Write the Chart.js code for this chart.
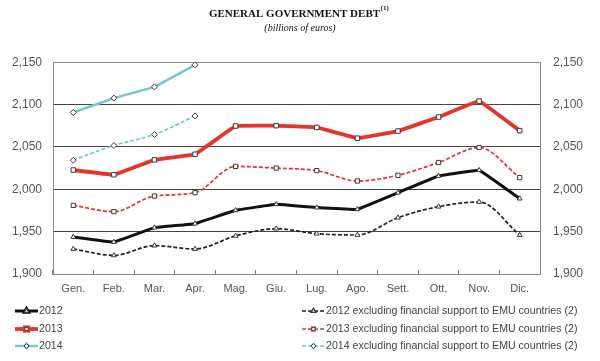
<!DOCTYPE html>
<html>
<head>
<meta charset="utf-8">
<script src="https://cdn.jsdelivr.net/npm/chart.js@4/dist/chart.umd.min.js"></script>
<style>
  html, body { margin: 0; padding: 0; background: #fff; }
  #wrap { width: 600px; height: 361px; }
</style>
</head>
<body>
<div id="wrap"><canvas id="debtChart"></canvas></div>
<script>
// months (Italian abbreviations, as in the source)
const months = ["Gen.", "Feb.", "Mar.", "Apr.", "Mag.", "Giu.", "Lug.", "Ago.", "Sett.", "Ott.", "Nov.", "Dic."];

// billions of euros
const debt2012 = [1943.7, 1937.8, 1954.7, 1959.4, 1975.2, 1982.3, 1978.4, 1976.4, 1996.0, 2015.7, 2022.5, 1989.0];
const debt2013 = [2022.7, 2017.2, 2034.7, 2041.3, 2074.7, 2075.1, 2073.0, 2060.3, 2068.7, 2085.3, 2104.1, 2069.2];
const debt2014 = [2090.7, 2107.6, 2120.9, 2146.9, null, null, null, null, null, null, null, null];

// excluding financial support to EMU countries
const excl2012 = [1929.5, 1922.0, 1933.5, 1929.5, 1945.0, 1953.5, 1947.6, 1946.0, 1966.5, 1979.5, 1985.0, 1946.0];
const excl2013 = [1981.0, 1973.6, 1992.0, 1996.0, 2027.0, 2025.0, 2022.0, 2009.8, 2016.5, 2031.6, 2049.3, 2013.8];
const excl2014 = [2034.3, 2051.7, 2064.7, 2086.6, null, null, null, null, null, null, null, null];

const yTicks = [1900, 1950, 2000, 2050, 2100, 2150];

const TITLE = "GENERAL GOVERNMENT DEBT";
const TITLE_NOTE = "(1)";

const BLACK = "#111111";
const RED = "#e5352b";
const CYAN = "#74c7ca";
const MARK_BORDER = "#3a3a3a";
const SERIF = "'Liberation Serif', 'Times New Roman', serif";
const SANS = "'Liberation Sans', Arial, sans-serif";

function solid(label, data, color, width, style, radius) {
  return {
    label: label, data: data,
    borderColor: color, borderWidth: width,
    pointStyle: style, pointRadius: radius,
    pointBackgroundColor: "#fff", pointBorderColor: MARK_BORDER, pointBorderWidth: 1,
    tension: 0.05, spanGaps: false
  };
}
function dashed(label, data, color, style, radius) {
  return {
    label: label, data: data,
    borderColor: color, borderWidth: 1.7, borderDash: [4, 2],
    pointStyle: style, pointRadius: radius,
    pointBackgroundColor: "#fff", pointBorderColor: MARK_BORDER, pointBorderWidth: 1,
    tension: 0.3, cubicInterpolationMode: "monotone", spanGaps: false
  };
}

const datasets = [
  solid("2012", debt2012, BLACK, 3, "triangle", 2.8),
  solid("2013", debt2013, RED, 3.8, "rect", 3.2),
  solid("2014", debt2014, CYAN, 2.4, "rectRot", 3),
  dashed("2012 excluding financial support to EMU countries (2)", excl2012, "#222", "triangle", 2.8),
  dashed("2013 excluding financial support to EMU countries (2)", excl2013, RED, "rect", 3),
  dashed("2014 excluding financial support to EMU countries (2)", excl2014, CYAN, "rectRot", 3)
];

// superscript note after the title text
const titleNote = {
  id: "titleNote",
  afterDraw(chart) {
    const tb = chart.titleBlock;
    if (!tb) return;
    const ctx = chart.ctx;
    ctx.save();
    ctx.font = "bold 11px " + SERIF;
    const full = ctx.measureText(TITLE + "    ").width;
    const main = ctx.measureText(TITLE).width;
    const x = (tb.left + tb.right) / 2 - full / 2 + main + 0.5;
    ctx.font = "bold 7px " + SERIF;
    ctx.fillStyle = "#111";
    ctx.textAlign = "left";
    ctx.textBaseline = "middle";
    ctx.fillText(TITLE_NOTE, x, tb.top + 8);
    ctx.restore();
  }
};

// legend in two columns below the plot
const twoColLegend = {
  id: "twoColLegend",
  afterDraw(chart) {
    const ctx = chart.ctx;
    const rows = [311, 329, 346];
    const cols = [{ x0: 15, x1: 38 }, { x0: 302, x1: 325 }];
    ctx.save();
    chart.data.datasets.forEach((ds, i) => {
      const col = cols[Math.floor(i / 3)];
      const y = rows[i % 3];
      ctx.strokeStyle = ds.borderColor;
      ctx.lineWidth = ds.borderWidth;
      ctx.setLineDash(ds.borderDash || []);
      ctx.beginPath();
      ctx.moveTo(col.x0, y);
      ctx.lineTo(col.x1, y);
      ctx.stroke();
      ctx.setLineDash([]);
      Chart.helpers.drawPoint(ctx, {
        pointStyle: ds.pointStyle, radius: 2.4, rotation: 0,
        borderWidth: 1
      }, (col.x0 + col.x1) / 2, y);
      ctx.fillStyle = "#fff";
      ctx.strokeStyle = MARK_BORDER;
      ctx.lineWidth = 1;
      ctx.fill();
      ctx.stroke();
      ctx.fillStyle = "#444";
      ctx.font = "10.6px " + SANS;
      ctx.textBaseline = "middle";
      ctx.textAlign = "left";
      ctx.fillText(ds.label, col.x1 + 1, y + 0.5);
    });
    ctx.restore();
  }
};

const fmt = v => v.toLocaleString("en-US");

const config = {
  type: "line",
  data: { labels: months, datasets: datasets },
  plugins: [twoColLegend, titleNote],
  options: {
    responsive: false,
    animation: false,
    layout: { padding: { left: 0, right: 0, top: 0, bottom: 62 } },
    plugins: {
      legend: { display: false },
      tooltip: { enabled: false },
      title: {
        display: true,
        text: TITLE + "    ",
        color: "#111",
        font: { family: SERIF, size: 11, weight: "bold" },
        padding: { top: 8, bottom: 1 }
      },
      subtitle: {
        display: true,
        text: "(billions of euros)",
        color: "#111",
        font: { family: SERIF, size: 10, style: "italic" },
        padding: { top: 0, bottom: 28 }
      }
    },
    scales: {
      x: {
        offset: true,
        grid: {
          offset: true,
          drawOnChartArea: false,
          drawTicks: true,
          tickLength: -4,
          color: "#777"
        },
        border: { display: true, color: "#888", width: 1 },
        ticks: {
          color: "#555",
          padding: 12,
          font: { family: SANS, size: 11 }
        },
        afterFit(scale) { scale.height = 25; }
      },
      y: {
        position: "left",
        min: 1900, max: 2150,
        afterBuildTicks(scale) { scale.ticks = yTicks.map(v => ({ value: v })); },
        grid: {
          drawTicks: false,
          color: ctx => (ctx.tick.value === 1900 ? "rgba(0,0,0,0)" : ctx.tick.value === 2150 ? "#888" : "#444"),
          lineWidth: 1
        },
        border: { display: true, color: "#888", width: 1 },
        ticks: {
          color: "#555",
          padding: 11,
          callback: v => fmt(v),
          font: { family: SANS, size: 12 }
        },
        afterFit(scale) { scale.width = 53; }
      },
      y2: {
        position: "right",
        min: 1900, max: 2150,
        afterBuildTicks(scale) { scale.ticks = yTicks.map(v => ({ value: v })); },
        grid: { drawOnChartArea: false, drawTicks: false },
        border: { display: true, color: "#888", width: 1 },
        ticks: {
          color: "#555",
          padding: 13,
          callback: v => fmt(v),
          font: { family: SANS, size: 12 }
        },
        afterFit(scale) { scale.width = 60; }
      }
    }
  }
};

const ctx = document.getElementById("debtChart");
ctx.width = 600;
ctx.height = 361;
new Chart(ctx, config);
</script>
</body>
</html>
